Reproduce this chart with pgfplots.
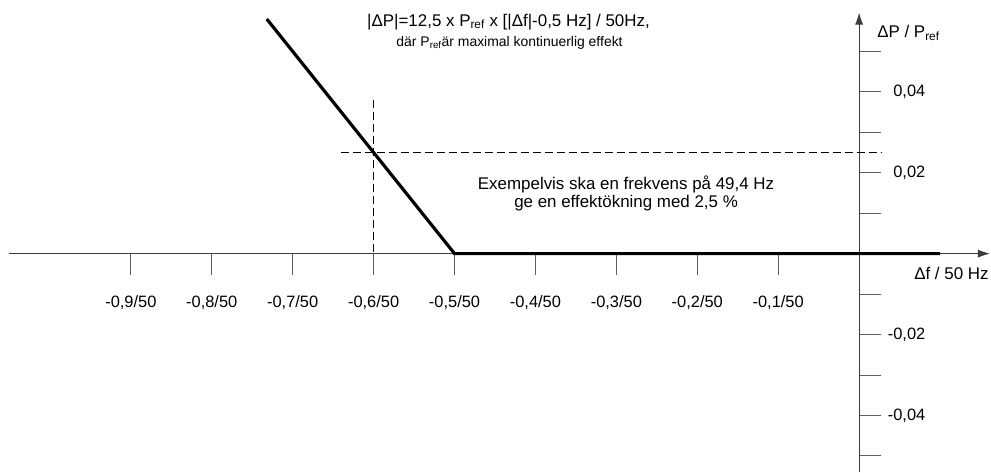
\documentclass[border=0pt]{standalone}
\usepackage{fontspec}
\setmainfont{Liberation Sans}
\usepackage{pgfplots}
\pgfplotsset{compat=1.18}
\usetikzlibrary{arrows.meta}
\definecolor{axisgray}{RGB}{60,60,60}
\definecolor{tickgray}{RGB}{95,95,95}

\begin{document}
\begin{tikzpicture}
\begin{axis}[
  scale only axis,
  width=981.5bp, height=460bp,
  xmin=-1.050, xmax=0.1617,
  ymin=-0.054, ymax=0.0596,
  axis lines=middle,
  axis line style={axisgray, line width=0.9bp, -{Latex[length=12bp,width=8bp]}},
  clip=false,
  xtick={-0.9,-0.8,-0.7,-0.6,-0.5,-0.4,-0.3,-0.2,-0.1},
  xticklabels={{-0,9/50},{-0,8/50},{-0,7/50},{-0,6/50},{-0,5/50},{-0,4/50},{-0,3/50},{-0,2/50},{-0,1/50}},
  ytick={-0.04,-0.02,0.02,0.04},
  yticklabels={{-0,04},{-0,02},{0,02},{0,04}},
  minor ytick={-0.05,-0.03,-0.01,0.01,0.03,0.05},
  tick align=center,
  major tick length=21.5bp,
  minor tick length=21.5bp,
  every tick/.style={tickgray, line width=0.9bp},
  xtick style={yshift=-10.75bp},
  ytick style={xshift=10.75bp},
  /pgf/number format/assume math mode=true,
  tick label style={font=\fontsize{16.5}{19}\selectfont},
  xticklabel style={anchor=north, yshift=-28bp},
  yticklabel style={anchor=east},
  yticklabel shift=-80.5bp,
]
  % droop characteristic: |dP| = 12.5 * (|df| - 0.5) / 50 below 49.5 Hz
  \addplot[black, line width=3.2bp, line join=miter] coordinates {
    (-0.732,0.058) (-0.5,0) (0.1,0)
  };
  % example point: 49.4 Hz gives 2.5 %
  \addplot[black, line width=0.9bp, dash pattern=on 8bp off 4bp] coordinates {
    (-0.6,0.038) (-0.6,0)
  };
  \addplot[black, line width=0.9bp, dash pattern=on 8bp off 4bp] coordinates {
    (-0.64,0.025) (0.027,0.025)
  };

  \node[font=\fontsize{17}{20}\selectfont] at (axis cs:-0.4333,0.0573)
    {|ΔP|=12,5 x P\textsubscript{ref} x [|Δf|-0,5 Hz] / 50Hz,};
  \node[font=\fontsize{14}{16}\selectfont] at (axis cs:-0.432,0.0522)
    {där P\textsubscript{ref}är maximal kontinuerlig effekt};
  \node[font=\fontsize{17}{18}\selectfont, align=center] at (axis cs:-0.288,0.0148)
    {Exempelvis ska en frekvens på 49,4 Hz\\ge en effektökning med 2,5 \%};

  \node[font=\fontsize{17}{20}\selectfont, anchor=west, inner sep=0pt] at (axis cs:0.0222,0.0546)
    {ΔP / P\textsubscript{ref}};
  \node[font=\fontsize{17}{20}\selectfont, anchor=west, inner sep=0pt] at (axis cs:0.0679,-0.00494)
    {Δf / 50 Hz};

  \coordinate (bbA) at (axis cs:-1.0617,-0.0541);
  \coordinate (bbB) at (axis cs:0.1630,0.0627);
\end{axis}
\pgfresetboundingbox
\useasboundingbox (bbA) rectangle (bbB);
\end{tikzpicture}
\end{document}
